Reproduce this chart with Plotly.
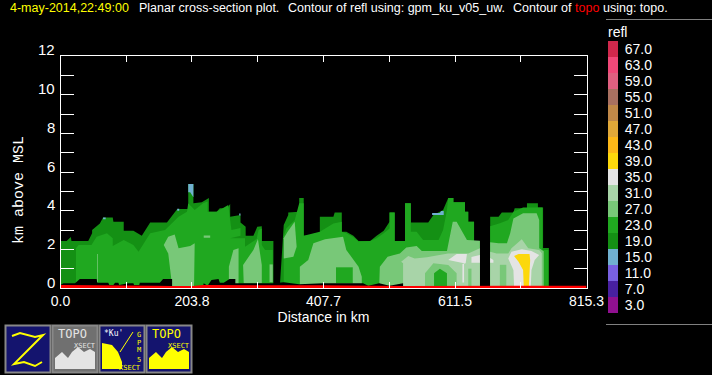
import plotly.graph_objects as go

W, H = 712, 375
TICK_KM = [0.0, 101.9, 203.8, 305.8, 407.7, 509.6, 611.5, 713.4, 815.3]
TICK_TXT = ["0.0", "", "203.8", "", "407.7", "", "611.5", "", "815.3"]
Y_TICKS = list(range(13))
Y_LABELS = [0, 2, 4, 6, 8, 10, 12]
LEVELS = ["67.0", "63.0", "59.0", "55.0", "51.0", "47.0", "43.0", "39.0", "35.0",
          "31.0", "27.0", "23.0", "19.0", "15.0", "11.0", "7.0", "3.0"]
COLORS = ["#d0284c", "#f04878", "#e06080", "#a87060", "#c08848", "#e0a838", "#fcb818",
          "#fcd80c", "#e4e4e4", "#a8d4a8", "#78c878", "#20a820", "#149014", "#70b0d0",
          "#7860e0", "#4820a0", "#901090"]
C = dict(zip(LEVELS, COLORS))

# --- 19 dBZ envelopes
x19a = [0,0,9.5,16,17,43,49,49,61,66,81,82,98,98,113,126,139,165,181,198,198,206,206,219,230,230,242,247,258,263,263,279,279,287,287,299,305,312,312,330,330]
y19a = [.1,2.43,2.43,2.64,2.43,2.43,2.83,3,3.34,3.65,3.65,3.43,3.43,2.96,2.96,2.7,3.39,3.39,4.08,4.08,5.38,5.38,4.38,4.43,4.65,3.95,3.95,4.12,4.12,4.34,3.69,3.77,3.39,3.17,2.7,2.7,3.17,3.2,2.43,2.43,.1]
x19b = [340,346,353,353,370,370,377,377,402,402,423,425,436,436,443,454,462,480,490,501,510,510,518,518,534,534,543,543,570,578,593,601,609,609,627,627,632,632,641,641,650,650]
y19b = [.1,3.26,3.77,3.91,3.95,4.65,4.65,2.7,2.7,3.69,3.69,3.91,3.91,2.91,2.91,2.7,2.43,2.43,2.7,2.96,3.43,3.91,3.91,2.43,2.43,4.38,4.38,3.39,3.39,3.77,4.03,4.65,4.65,4.43,4.43,3.95,3.95,3.43,3.43,2.43,2.43,.1]
x19c = [666,666,679,684,702,704,723,723,740,740,748,748,757,757]
y19c = [.1,3.69,3.69,3.91,3.91,4.12,4.12,4.38,4.38,4.17,4.17,2.07,2.07,.1]

# --- 23 dBZ
x23a = [24,24,28,48,56,72,81,81,98,113,121,139,162,183,196,198,208,221,228,228,242,247,260,263,265,279,279,263,286,286,304,307,312,312,317,329,329]
y23a = [.1,2.05,2.22,2.22,2.65,2.83,2.57,2.17,2.48,2.22,1.88,2.83,3,3.69,3.95,4.38,4.03,4.38,4.47,3.95,3.95,4.05,4.29,3.5,3,3.1,2.7,2.57,2.57,2.14,2.53,3,3.08,2.22,1.97,1.97,.1]
x23b = [346,346,350,363,370,377,377,402,423,436,436,443,453,462,480,490,501,510,510,518,518,534,534,543,543,552,562,586,593,599,601,609,609,627,627,632,632,641,641,650,650]
y23b = [.1,2.65,3.08,3.51,4.38,4.38,2.7,2.91,3.34,3.43,2.91,2.83,2.65,2.4,2.43,2.57,2.83,3.08,3.91,3.91,2.43,2.43,4.38,4.38,2.91,2.91,2.48,2.48,3,4.03,4.65,4.65,4.43,4.43,3.95,3.95,3.43,3.43,2.43,2.43,.1]
x23c = [666,666,681,694,702,717,747,747,756,756]
y23c = [.1,3.2,3.35,3.52,3.95,4.17,4.17,1.97,1.97,.1]
x23d = [427,427,453,453]
y23d = [.24,1.07,1.07,.24]
x23e = [579,579,588,599,599]
y23e = [.1,.76,1,.76,.1]

# --- 27 dBZ
x27a = [160,167,177,183,201,208,207,173,167]
y27a = [2.22,2.65,2.77,2.05,2.17,2.31,.1,.1,1.79]
x27b = [261,268,276,276,261]
y27b = [1.1,1.97,2.05,.2,.2]
x27c = [283,299,306,312,312,284]
y27c = [1.19,1.97,2.53,1.19,.25,.25]
x27d = [324,329,329,324]
y27d = [1.22,1.22,.3,.3]
x27e = [56.6,57.8,57.8,56.6]
y27e = [1.76,1.76,.3,.3]
x27f = [222,232,232,222]
y27f = [2.72,2.72,2.6,2.6]
x27g = [346,346,352,363,366,361]
y27g = [1.53,2.57,2.91,3.43,2.14,1.62]
x27h = [371,371,384,392,410,438,443,462,467,467]
y27h = [.1,1.1,1.45,2.31,2.52,2.65,1.97,1.1,.58,.1]
x27i = [494,495,507,526,536,552,560,599,608,614,630,648,650,650]
y27i = [.1,1.1,1.62,1.79,2.1,2.17,1.91,1.91,3.43,3.43,2.48,2.45,2.45,.1]
x27j = [666,666,679,692,697,702,717,738,742,742,749,749]
y27j = [.1,2.36,2.31,2.31,2.83,3.6,3.86,3.86,3.52,2.05,1.9,.1]

# --- 31 dBZ
x31a = [531,531,528,539,549,568,601,632,650,650]
y31a = [.1,1.28,1.36,1.66,1.53,1.59,1.79,1.79,2.05,.1]
x31b = [666,666,676,694,699,715,725,742,746,746]
y31b = [.1,1.88,1.79,1.79,2.05,2.52,2.05,1.97,1.8,.1]

# --- patches of 27 laid over the 31 areas
x27k = [565,565,578,601,614,614]
y27k = [.1,.76,1.28,1.19,.76,.1]
x27l = [632,632,637,637]
y27l = [.1,1,1,.1]
x27m = [681,681,691,691]
y27m = [.1,1.2,1.2,.1]

# --- 35 dBZ
x35a = [601,614,630,628,623,623,625.5,625.5]
y35a = [1.45,1.76,1.76,1.28,1.24,.28,.28,1.28]
x35b = [637,650,650,637]
y35b = [1.6,1.71,1.31,1.31]
x35c = [666,671,671,666]
y35c = [1.55,1.45,1.31,1.31]
x35d = [694,699,715,730,742,735,730,729,703,702]
y35d = [1.53,1.88,2,1.91,1.71,1.45,.93,.1,.1,.93]

# --- 39 dBZ
x39a = [703,710,727,728,726,718,717,710]
y39a = [1.66,1.76,1.76,1.45,.1,.1,.93,1.36]

# --- 15 dBZ
x15a = [66,66,70,70]
y15a = [3.55,3.65,3.65,3.55]
x15b = [198,198,206,206,201]
y15b = [4.95,5.38,5.38,4.7,4.95]
x15c = [181,181,184,184]
y15c = [4,4.1,4.1,4]
x15d = [277,277,279,279]
y15d = [3.75,3.85,3.85,3.75]
x15e = [576,576,588,590,594,594]
y15e = [3.77,3.88,3.88,3.98,3.98,3.77]

# --- blocked layer just above the surface (black)
mask_x = [0,4.4,22.5,30,56,57,74,75.7,82,84.5,89.6,91,105,113,114,122,123,154,159,173,173,221,222,228,234,245,247,253,262,271,271,301,330,346,370,407,469,477,494,510,531,531,650,650]
mask_y = [.15,.24,.24,.46,.46,.27,.27,.15,.15,.27,.27,.15,.24,.24,.15,.15,.27,.27,.46,.46,.1,.1,.24,.12,.42,.46,.27,.27,.46,.46,.24,.24,.24,.3,.2,.24,.24,.12,.24,.12,.24,.1,.1,.05]

# --- topography (red)
topo_x = [0,100,150,173,205,221,300,400,532,650,815.3]
topo_y = [.15,.15,.12,.1,.1,.15,.15,.14,.1,.12,.12]

REGIONS = [
    ("19.0", x19a, y19a), ("19.0", x19b, y19b), ("19.0", x19c, y19c),
    ("23.0", x23a, y23a), ("23.0", x23b, y23b), ("23.0", x23c, y23c),
    ("27.0", x27a, y27a), ("27.0", x27b, y27b), ("27.0", x27c, y27c), ("27.0", x27d, y27d),
    ("27.0", x27e, y27e), ("27.0", x27f, y27f), ("27.0", x27g, y27g), ("27.0", x27h, y27h),
    ("27.0", x27i, y27i), ("27.0", x27j, y27j),
    ("23.0", x23d, y23d),
    ("31.0", x31a, y31a), ("31.0", x31b, y31b),
    ("27.0", x27k, y27k), ("27.0", x27l, y27l), ("27.0", x27m, y27m),
    ("23.0", x23e, y23e),
    ("35.0", x35a, y35a), ("35.0", x35b, y35b), ("35.0", x35c, y35c), ("35.0", x35d, y35d),
    ("39.0", x39a, y39a),
    ("15.0", x15a, y15a), ("15.0", x15b, y15b), ("15.0", x15c, y15c), ("15.0", x15d, y15d), ("15.0", x15e, y15e),
]

SANS = "Liberation Sans"
fig = go.Figure()
for lev, xs, ys in REGIONS:
    fig.add_trace(go.Scatter(x=xs, y=ys, mode="lines", fill="toself", fillcolor=C[lev],
                             line=dict(width=0), showlegend=False, hoverinfo="skip"))
fig.add_trace(go.Scatter(x=mask_x + [815.3, 0], y=mask_y + [0, 0], mode="lines", fill="toself",
                         fillcolor="#000000", line=dict(width=0), showlegend=False, hoverinfo="skip"))
fig.add_trace(go.Scatter(x=topo_x + [815.3, 0], y=topo_y + [0, 0], mode="lines", fill="toself",
                         fillcolor="#ff0000", line=dict(width=0), showlegend=False, hoverinfo="skip"))
fig.add_trace(go.Bar(x=[1] * len(LEVELS), y=LEVELS, orientation="h", width=1,
                     marker=dict(color=COLORS, line=dict(width=0)), xaxis="x2", yaxis="y2",
                     showlegend=False, hoverinfo="skip"))


def px(x):
    return x / W


def py(y):
    return 1 - y / H


def text(x, y, s, color="white", size=12.5, anchor="left", family=SANS, angle=0):
    fig.add_annotation(x=px(x), y=py(y), xref="paper", yref="paper", text=s, showarrow=False,
                       xanchor=anchor, yanchor="middle", textangle=angle, borderpad=0, borderwidth=0,
                       font=dict(color=color, size=size, family=family))


def rect(x0, y0, x1, y1, fill, line="#888888", lw=2):
    fig.add_shape(type="rect", xref="paper", yref="paper", x0=px(x0), x1=px(x1), y0=py(y0), y1=py(y1),
                  fillcolor=fill, line=dict(color=line, width=lw))


def path(pts, fill=None, line=None, lw=0, close=False):
    d = "M " + " L ".join(f"{px(a):.5f},{py(b):.5f}" for a, b in pts) + (" Z" if close else "")
    fig.add_shape(type="path", xref="paper", yref="paper", path=d, fillcolor=fill,
                  line=dict(color=line or "rgba(0,0,0,0)", width=lw))


# header text
text(10, 8.5, "4-may-2014,22:49:00", "#ffff00")
text(139, 8.5, "Planar cross-section plot.")
text(288, 8.5, "Contour of")
text(350, 8.5, "refl using: gpm_ku_v05_uw.")
text(513, 8.5, "Contour of")
text(575, 8.5, "topo", "#ff0000")
text(603, 8.5, "using: topo.")
text(608, 32, "refl", size=14)
text(19, 190, "km above MSL", size=15, anchor="center", family="Liberation Mono", angle=-90)

# y labels sit a little above their ticks
for v in Y_LABELS:
    fig.add_annotation(x=px(57), y=v, xref="paper", yref="y", text=str(v), showarrow=False,
                       xanchor="right", yanchor="middle", yshift=6,
                       font=dict(color="white", size=15, family=SANS))

# separators
for yy in (19.5, 324.5):
    fig.add_shape(type="line", xref="paper", yref="paper", x0=px(606), x1=1, y0=py(yy), y1=py(yy),
                  line=dict(color="#808080", width=1))

# icon buttons
NAVY = "#14146e"
rect(5.5, 325.5, 50.5, 372.5, NAVY)
path([(12, 336), (20, 333), (35, 337), (43, 335), (14, 364), (24, 362), (35, 366), (42, 362)],
     line="#ffff00", lw=2)

rect(52.5, 325.5, 97.5, 372.5, "#707070")
text(72, 334, "TOPO", "#e4e4e4", 12, "center", "DejaVu Sans Mono")
text(85, 346, "XSECT", "#e4e4e4", 7, "center", "DejaVu Sans Mono")
path([(55, 369), (55, 358), (62, 352), (68, 358), (72, 352), (78, 347), (84, 352), (90, 349), (95, 352), (95, 369)],
     fill="#e4e4e4", close=True)

rect(99.5, 325.5, 144.5, 372.5, NAVY)
text(113, 333, "*Ku'", "#ffffff", 8, "center", "DejaVu Sans Mono")
for yy, ch in zip((335, 343, 350, 360), "GPM5"):
    text(139, yy, ch, "#ffff00", 7, "center", "DejaVu Sans Mono")
text(130, 367.5, "XSECT", "#ffff00", 7, "center", "DejaVu Sans Mono")
path([(102, 369), (102, 343), (112, 345), (118, 352), (122, 362), (122, 369)], fill="#ffff00", close=True)
path([(133, 332), (120, 352)], line="#ffff00", lw=1)

rect(146.5, 325.5, 191.5, 372.5, NAVY)
text(166, 334, "TOPO", "#ffff00", 12, "center", "DejaVu Sans Mono")
text(179, 346, "XSECT", "#ffff00", 7, "center", "DejaVu Sans Mono")
path([(149, 369), (149, 358), (156, 352), (162, 358), (166, 352), (172, 347), (178, 352), (184, 349), (189, 352), (189, 369)],
     fill="#ffff00", close=True)

fig.update_layout(
    width=W, height=H, margin=dict(l=0, r=0, t=0, b=0), autosize=False, template="none",
    paper_bgcolor="#000000", plot_bgcolor="#000000", showlegend=False,
    xaxis=dict(domain=[px(60.5), px(586.5)], range=[0, 815.3], tickmode="array", automargin=False,
               tickvals=TICK_KM, ticktext=TICK_TXT, ticks="inside", ticklen=6, tickcolor="white",
               tickwidth=1, showline=True, linecolor="white", linewidth=1, mirror="allticks",
               showgrid=False, zeroline=False, layer="above traces",
               tickfont=dict(color="white", size=14, family=SANS),
               title=dict(text="Distance in km", standoff=1, font=dict(color="white", size=14, family=SANS))),
    yaxis=dict(domain=[py(288), py(56)], range=[0, 12], tickmode="array", tickvals=Y_TICKS, automargin=False,
               showticklabels=False, ticks="inside", ticklen=13, tickcolor="white", tickwidth=1,
               showline=True, linecolor="white", linewidth=1, mirror="allticks",
               showgrid=False, zeroline=False, layer="above traces"),
    xaxis2=dict(domain=[px(608), px(618)], range=[0, 1], anchor="y2", visible=False, fixedrange=True, automargin=False),
    yaxis2=dict(domain=[py(313), py(41)], anchor="x2", side="right", type="category", automargin=False,
                categoryorder="array", categoryarray=LEVELS[::-1], showgrid=False, zeroline=False,
                tickmode="array", tickvals=LEVELS, ticktext=LEVELS,
                showline=False, ticks="outside", ticklen=3, tickcolor="#000000",
                tickfont=dict(color="white", size=14, family=SANS)),
)

fig.write_html("out.html", config={"displayModeBar": False},
               post_script="document.body.style.margin='0';document.body.style.overflow='hidden';")
